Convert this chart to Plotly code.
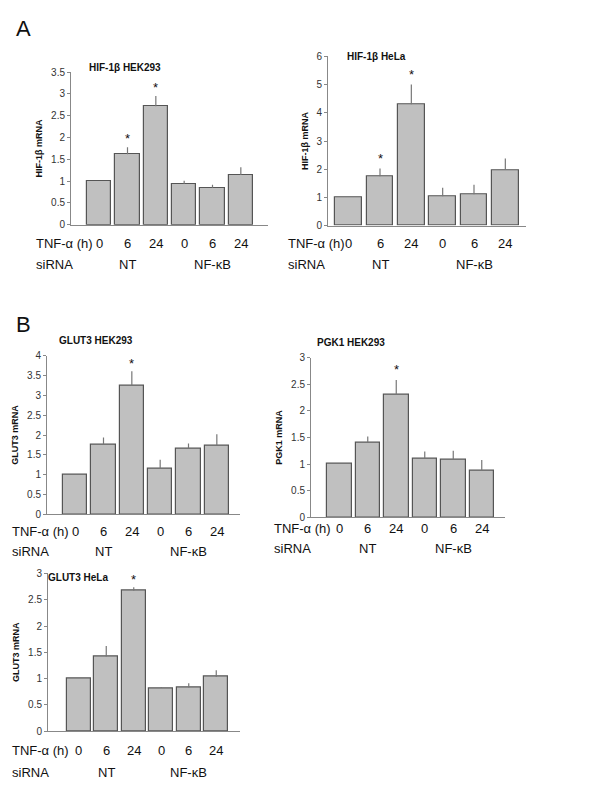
import plotly.graph_objects as go

W, H = 590, 800
tnf_labels = ["0", "6", "24", "0", "6", "24"]
groups = ["NT", "NF-κB"]

a1_vals = [1.0, 1.62, 2.72, 0.94, 0.85, 1.14]
a1_err = [0, 0.16, 0.23, 0.07, 0.07, 0.18]
a1_star = [0, 1, 1, 0, 0, 0]
a2_vals = [1.0, 1.75, 4.3, 1.05, 1.12, 1.98]
a2_err = [0, 0.28, 0.7, 0.3, 0.33, 0.4]
a2_star = [0, 1, 1, 0, 0, 0]
b1_vals = [1.0, 1.76, 3.25, 1.15, 1.66, 1.73]
b1_err = [0, 0.18, 0.36, 0.23, 0.13, 0.29]
b1_star = [0, 0, 1, 0, 0, 0]
b2_vals = [1.0, 1.41, 2.3, 1.11, 1.09, 0.87]
b2_err = [0, 0.11, 0.28, 0.13, 0.16, 0.21]
b2_star = [0, 0, 1, 0, 0, 0]
c_vals = [1.0, 1.42, 2.67, 0.82, 0.83, 1.03]
c_err = [0, 0.2, 0.07, 0.02, 0.08, 0.13]
c_star = [0, 0, 1, 0, 0, 0]

fig = go.Figure()
ann = []

def panel(i, vals, err, star, ymax, dtick, title, ytitle,
          ax0, b0, b1, ax1, y0, ytop, title_xy, tnf_y, sirna_y, lab_x, star_off):
    w = (b1 - b0) / 6
    xr = [-0.5 - (b0 - ax0) / w, 5.5 + (ax1 - b1) / w]
    xa = "x" if i == 1 else f"x{i}"
    ya = "y" if i == 1 else f"y{i}"
    fig.add_trace(go.Bar(
        x=list(range(6)), y=vals, width=0.86, xaxis=xa, yaxis=ya,
        marker=dict(color="#c0c0c0", line=dict(color="#555555", width=1.2)),
        error_y=dict(type="data", array=err, arrayminus=[0]*6, symmetric=False,
                     color="#777777", thickness=1.2, width=0),
        showlegend=False, hoverinfo="skip"))
    lay = {}
    lay["xaxis" if i == 1 else f"xaxis{i}"] = dict(
        domain=[ax0 / W, ax1 / W], range=xr, showticklabels=False, ticks="", showgrid=False,
        showline=True, linecolor="#888888", linewidth=1, zeroline=False, anchor=ya)
    lay["yaxis" if i == 1 else f"yaxis{i}"] = dict(
        domain=[1 - y0 / H, 1 - ytop / H], range=[0, ymax], dtick=dtick, showgrid=False,
        zeroline=False, showline=True, linecolor="#888888", linewidth=1, ticks="outside",
        ticklen=3, tickcolor="#888888", tickfont=dict(size=10, color="#333333"),
        anchor=xa, title=dict(text=f"<b>{ytitle}</b>", font=dict(size=9), standoff=6))
    fig.update_layout(**lay)
    ann.append(dict(text=f"<b>{title}</b>", x=title_xy[0] / W, y=1 - title_xy[1] / H,
                    xref="paper", yref="paper", xanchor="left", yanchor="middle",
                    showarrow=False, font=dict(size=10)))
    for k, t in enumerate(tnf_labels):
        ann.append(dict(text=t, x=k, y=1 - tnf_y / H, xref=xa, yref="paper",
                        showarrow=False, font=dict(size=13), yanchor="middle"))
        if star[k]:
            ann.append(dict(text="*", x=k, y=vals[k] + err[k] + star_off, xref=xa, yref=ya,
                            showarrow=False, font=dict(size=13), yanchor="middle"))
    for gx, g in zip([1, 4], groups):
        ann.append(dict(text=g, x=gx, y=1 - sirna_y / H, xref=xa, yref="paper",
                        showarrow=False, font=dict(size=13), yanchor="middle"))
    ann.append(dict(text="TNF-α (h)", x=lab_x / W, y=1 - tnf_y / H, xref="paper", yref="paper",
                    xanchor="left", showarrow=False, font=dict(size=13), yanchor="middle"))
    ann.append(dict(text="siRNA", x=lab_x / W, y=1 - sirna_y / H, xref="paper", yref="paper",
                    xanchor="left", showarrow=False, font=dict(size=13), yanchor="middle"))

panel(1, a1_vals, a1_err, a1_star, 3.5, 0.5, "HIF-1β HEK293", "HIF-1β mRNA",
      63, 77, 247, 260, 214, 59, (79, 54), 233, 254, 26, 0.2)
panel(2, a2_vals, a2_err, a2_star, 6, 1, "HIF-1β HeLa", "HIF-1β mRNA",
      320, 325, 513, 518, 215, 43, (337, 43), 233, 254, 278, 0.35)
panel(3, b1_vals, b1_err, b1_star, 4, 0.5, "GLUT3 HEK293", "GLUT3 mRNA",
      39, 53, 223, 232, 508, 347, (49, 331), 525, 546, 2, 0.2)
panel(4, b2_vals, b2_err, b2_star, 3, 0.5, "PGK1 HEK293", "PGK1 mRNA",
      303, 317, 488, 497, 511, 349, (307, 333), 522, 543, 264, 0.2)
panel(5, c_vals, c_err, c_star, 3, 0.5, "GLUT3 HeLa", "GLUT3 mRNA",
      40, 57, 222, 232, 728, 568, (38, 572), 748, 770, 2, 0.15)

ann.append(dict(text="A", x=6 / W, y=1.0, xref="paper", yref="paper",
                xanchor="left", yanchor="top", showarrow=False, font=dict(size=22)))
ann.append(dict(text="B", x=6 / W, y=1 - 300 / H, xref="paper", yref="paper",
                xanchor="left", yanchor="top", showarrow=False, font=dict(size=22)))

fig.update_layout(width=W, height=H, margin=dict(l=0, r=0, t=0, b=0),
                  paper_bgcolor="white", plot_bgcolor="white", annotations=ann,
                  font=dict(family="Liberation Sans, Arial", color="#111111"),
                  bargap=0)
fig.write_html("out.html")
